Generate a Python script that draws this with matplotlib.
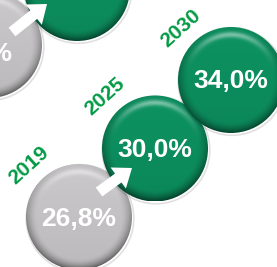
import numpy as np
import matplotlib
matplotlib.use("Agg")
import matplotlib.pyplot as plt
from matplotlib.patches import Circle, FancyArrow
from matplotlib.colors import to_rgb

# ---- data ----
years = ["2019", "2025", "2030"]
values = [26.8, 30.0, 34.0]
kinds = ["actual", "target", "target"]
# partial circles of a neighbouring panel (cropped at top-left)
side_values = [26.8, None]
side_kinds = ["actual", "target"]

COLORS = {"actual": "#c3c1c3", "target": "#0c8d5d"}
YEAR_COLOR = "#039a45"

W, H = 277, 267
fig = plt.figure(figsize=(W / 100, H / 100), dpi=100)
ax = fig.add_axes([0, 0, 1, 1])
ax.set_xlim(0, W)
ax.set_ylim(H, 0)
ax.axis("off")

R = 53
FONT = "Liberation Sans"
VAL_SIZE = 19


def fmt(v):
    return f"{v:.1f}".replace(".", ",") + "%"


def shaded_circle(cx, cy, color, z):
    base = np.array(to_rgb(color))
    n = 200
    t = np.linspace(-1, 1, n)
    X, Y = np.meshgrid(t, t)  # Y positive downward
    r = np.sqrt(X ** 2 + Y ** 2)
    img = np.ones((n, n, 3)) * base
    img = img * (1.0 + 0.04 * (-Y))[..., None]
    edge = np.clip((r - 0.80) / 0.20, 0, 1) ** 1.5
    lower = np.clip(0.55 + 0.45 * Y, 0, 1)
    img = img * (1 - 0.5 * edge * lower)[..., None]
    ang = np.clip(-Y / np.maximum(r, 1e-6), 0, 1)
    band = np.exp(-((r - 0.86) / 0.055) ** 2) * ang ** 2.5
    img = img + (1 - img) * (0.45 * band)[..., None]
    img = np.clip(img, 0, 1)
    circ = Circle((cx, cy), R, facecolor="none", edgecolor="none", zorder=z)
    ax.add_patch(circ)
    im = ax.imshow(img, extent=[cx - R, cx + R, cy + R, cy - R],
                   zorder=z, interpolation="bilinear")
    im.set_clip_path(circ)
    ax.add_patch(Circle((cx + 1, cy + 1.5), R + 0.8, facecolor="none",
                        edgecolor=(0, 0, 0, 0.12), lw=1.2, zorder=z - 0.5))


def arrow(x0, y0, x1, y1, z):
    ax.add_patch(FancyArrow(x0, y0, x1 - x0, y1 - y0, width=11,
                            head_width=26, head_length=17,
                            length_includes_head=True, color="white",
                            lw=0, zorder=z))


# ---- neighbouring cropped panel ----
side_cx = [-11, 77]
side_cy = [45, -12]
for i, (k, v) in enumerate(zip(side_kinds, side_values)):
    shaded_circle(side_cx[i], side_cy[i], COLORS[k], 2 + i)
    if v is not None:
        ax.text(side_cx[i] + 23, side_cy[i] + 9, fmt(v), ha="right", va="center",
                color="white", fontsize=VAL_SIZE, fontweight="bold", family=FONT,
                zorder=10)
arrow(12, 32, 47, 4, 10)

# ---- main panel ----
step_x, step_y = 76, -68.5
x0, y0 = 79, 217
for i, (yr, v, k) in enumerate(zip(years, values, kinds)):
    cx = x0 + step_x * i
    cy = y0 + step_y * i
    shaded_circle(cx, cy, COLORS[k], 3 + i)
    ax.text(cx, cy + 1.5, fmt(v), ha="center", va="center", color="white",
            fontsize=VAL_SIZE, fontweight="bold", family=FONT, zorder=10)
    ax.text(cx - 50, cy - 52, yr, ha="center", va="center", rotation=42,
            color=YEAR_COLOR, fontsize=15, fontweight="bold", family=FONT,
            zorder=10, rotation_mode="anchor")
    if i < len(years) - 1 and k != kinds[i + 1]:
        arrow(cx + 20, cy - 25, cx + 53, cy - 49, 10)

fig.savefig("out.png", dpi=100)
